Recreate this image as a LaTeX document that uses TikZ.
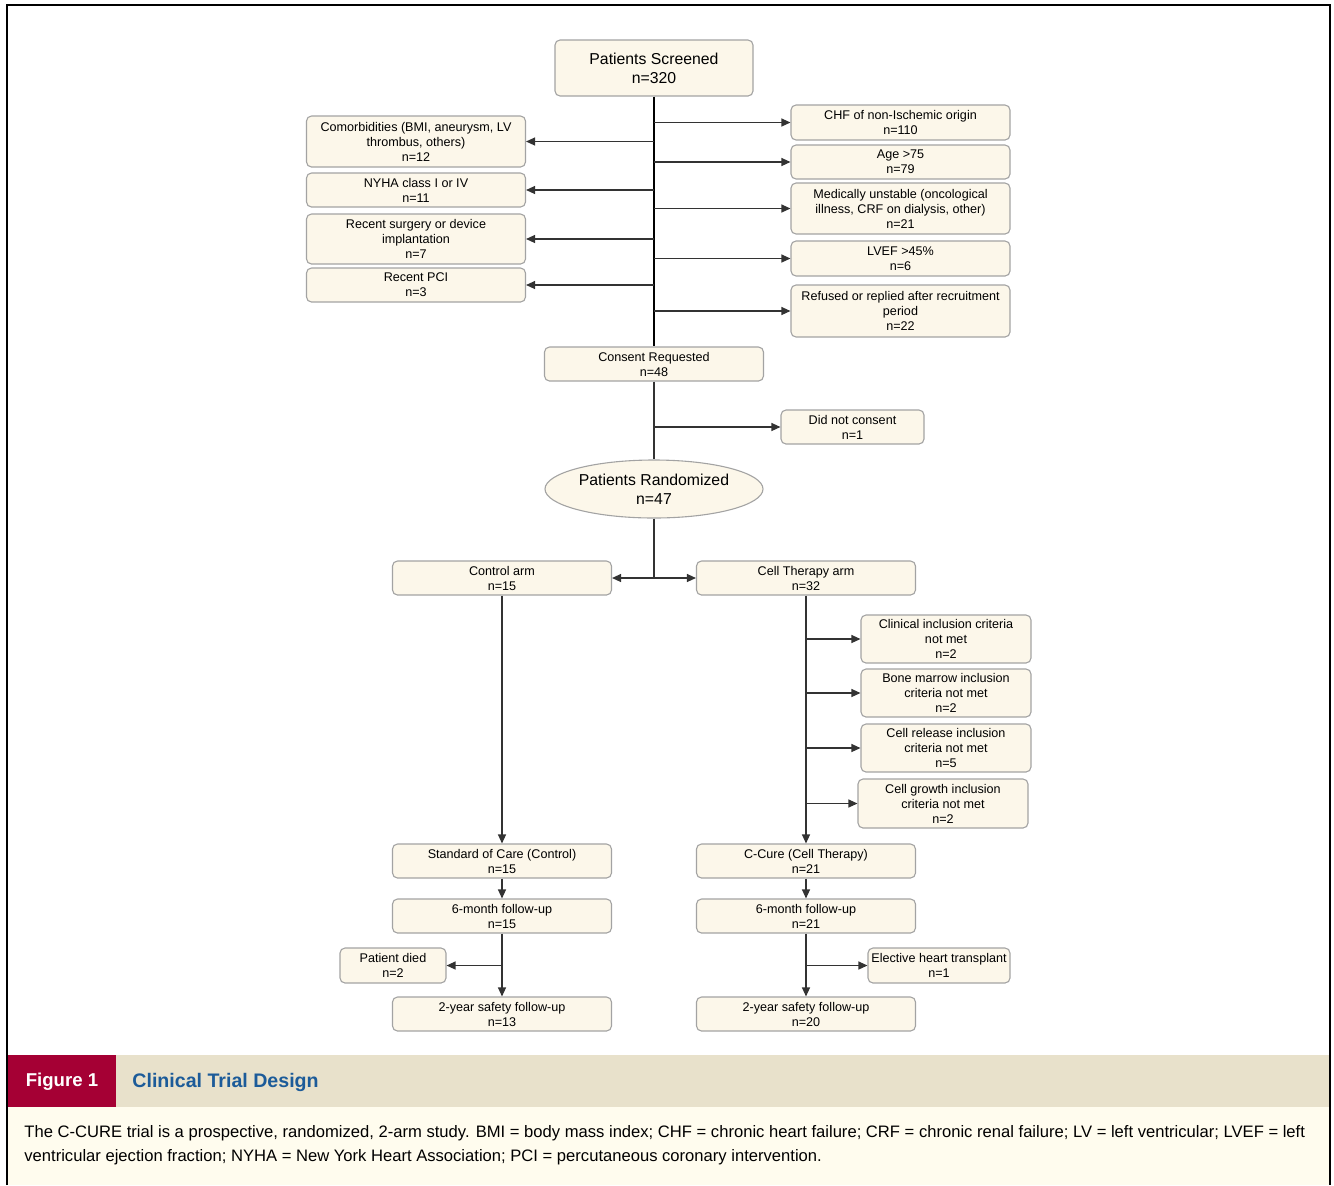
\documentclass[tikz,border=0pt]{standalone}
\usepackage{fontspec}
\setmainfont{Liberation Sans}
\usetikzlibrary{shapes.geometric,arrows.meta}
\definecolor{boxfill}{HTML}{FCF7EA}
\definecolor{boxline}{HTML}{A3A3A3}
\definecolor{linec}{HTML}{333333}
\definecolor{figred}{HTML}{A50034}
\definecolor{band}{HTML}{E8E1CB}
\definecolor{capbg}{HTML}{FFFCEE}
\definecolor{titleblue}{HTML}{1C5B99}
\begin{document}
\begin{tikzpicture}[x=0.5pt,y=-0.5pt,
  bx/.style={draw=boxline, fill=boxfill, line width=0.55pt, rounded corners=2.5pt,
    align=center, inner sep=0pt, font=\fontsize{6.3}{7.5}\selectfont,
    minimum width=109.5pt, minimum height=17pt},
  sbx/.style={bx, minimum width=85pt},
  conn/.style={draw=linec, line width=0.6pt},
  arr/.style={conn, -{Triangle[length=4.5pt,width=4pt]}}]
\useasboundingbox (0,0) rectangle (1334,1185);
% caption band
\fill[band] (8,1055) rectangle (1329,1107);
\fill[figred] (8,1055) rectangle (116,1107);
\fill[capbg] (8,1107) rectangle (1329,1185);
\draw[line width=1pt] (7,1185) -- (7,5) -- (1330,5) -- (1330,1185);
\node[text=white, font=\bfseries\fontsize{9.3}{11}\selectfont] (fig) at (62,1082) {Figure 1};
\node[anchor=west, text=titleblue, inner sep=0pt, font=\bfseries\fontsize{9.8}{11}\selectfont] (ttl) at (132,1082) {Clinical Trial Design};
\node[anchor=north west, inner sep=0pt, align=left, font=\fontsize{8.3}{12}\selectfont] (cap) at (24,1125)
 {The C-CURE trial is a prospective, randomized, 2-arm study. BMI = body mass index; CHF = chronic heart failure; CRF = chronic renal failure; LV = left ventricular; LVEF = left\\
  ventricular ejection fraction; NYHA = New York Heart Association; PCI = percutaneous coronary intervention.};

% nodes
\node[bx, minimum width=99pt, minimum height=28pt, font=\fontsize{7.9}{9.5}\selectfont] (ps) at (654,68) {Patients Screened\\n=320};
\node[bx, minimum height=17.5pt] (chf) at (900.5,122.5) {CHF of non-Ischemic origin\\n=110};
\node[bx] (age) at (900.5,162) {Age >75\\n=79};
\node[bx, minimum height=25.5pt] (med) at (900.5,208.5) {Medically unstable (oncological\\illness, CRF on dialysis, other)\\n=21};
\node[bx, minimum height=17.5pt] (lvef) at (900.5,258.5) {LVEF >45\%\\n=6};
\node[bx, minimum height=26pt] (ref) at (900.5,311) {Refused or replied after recruitment\\period\\n=22};
\node[bx, minimum height=25.5pt] (cm) at (416,141.5) {Comorbidities (BMI, aneurysm, LV\\thrombus, others)\\n=12};
\node[bx] (ny) at (416,190) {NYHA class I or IV\\n=11};
\node[bx, minimum height=25pt] (rs) at (416,239) {Recent surgery or device\\implantation\\n=7};
\node[bx] (pci) at (416,285) {Recent PCI\\n=3};
\node[bx] (cr) at (654,364) {Consent Requested\\n=48};
\node[bx, minimum width=71.5pt] (dnc) at (852.5,427) {Did not consent\\n=1};
\node[draw=boxline, fill=boxfill, line width=0.55pt, ellipse, minimum width=109pt, minimum height=29pt, inner sep=0pt, align=center, font=\fontsize{7.9}{9.5}\selectfont] (rnd) at (654,489) {Patients Randomized\\n=47};
\node[bx] (ctrl) at (502,578) {Control arm\\n=15};
\node[bx] (cell) at (806,578) {Cell Therapy arm\\n=32};
\node[sbx, minimum height=24pt] (cl) at (946,639) {Clinical inclusion criteria\\not met\\n=2};
\node[sbx, minimum height=24pt] (bm) at (946,693) {Bone marrow inclusion\\criteria not met\\n=2};
\node[sbx, minimum height=24pt] (crl) at (946,748) {Cell release inclusion\\criteria not met\\n=5};
\node[sbx, minimum height=24.5pt] (cg) at (943,803.5) {Cell growth inclusion\\criteria not met\\n=2};
\node[bx] (soc) at (502,861) {Standard of Care (Control)\\n=15};
\node[bx] (cc) at (806,861) {C-Cure (Cell Therapy)\\n=21};
\node[bx] (m6l) at (502,916) {6-month follow-up\\n=15};
\node[bx] (m6r) at (806,916) {6-month follow-up\\n=21};
\node[bx, minimum width=53pt, minimum height=17.5pt] (pd) at (393,965.5) {Patient died\\n=2};
\node[bx, minimum width=71pt, minimum height=17.5pt] (eht) at (939,965.5) {Elective heart transplant\\n=1};
\node[bx] (y2l) at (502,1014) {2-year safety follow-up\\n=13};
\node[bx] (y2r) at (806,1014) {2-year safety follow-up\\n=20};

% connectors
\draw[conn, draw=black] (ps.south) -- (cr.north);
\foreach \t in {chf,age,med,lvef,ref} \draw[arr] (ps.south |- \t.west) -- (\t.west);
\foreach \t in {cm,ny,rs,pci} \draw[arr] (ps.south |- \t.east) -- (\t.east);
\draw[conn] (cr.south) -- (rnd.north);
\draw[arr] (cr.south |- dnc.west) -- (dnc.west);
\draw[conn] (rnd.south) -- (rnd.south |- ctrl.east) coordinate (split);
\draw[arr] (split) -- (ctrl.east);
\draw[arr] (split) -- (cell.west);
\draw[arr] (ctrl.south) -- (soc.north);
\draw[arr] (cell.south) -- (cc.north);
\foreach \t in {cl,bm,crl,cg} \draw[arr] (cell.south |- \t.west) -- (\t.west);
\draw[arr] (soc.south) -- (m6l.north);
\draw[arr] (cc.south) -- (m6r.north);
\draw[arr] (m6l.south) -- (y2l.north);
\draw[arr] (m6r.south) -- (y2r.north);
\draw[arr] (m6l.south |- pd.east) -- (pd.east);
\draw[arr] (m6r.south |- eht.west) -- (eht.west);
\end{tikzpicture}
\end{document}
